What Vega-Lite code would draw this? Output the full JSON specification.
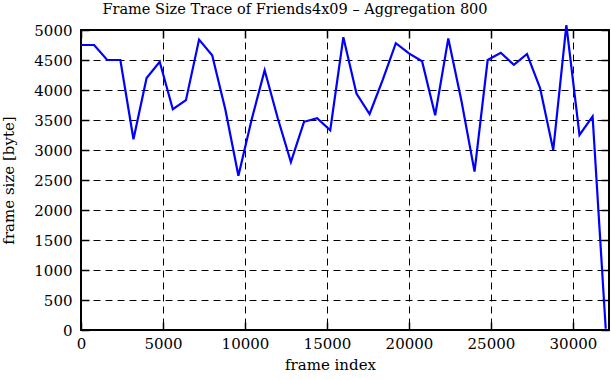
{
  "$schema": "https://vega.github.io/schema/vega-lite/v6.json",
  "width": 528,
  "height": 300,
  "autosize": "none",
  "padding": {"left": 81, "top": 30, "right": 2, "bottom": 50},
  "background": "white",
  "title": {
    "text": "Frame Size Trace of Friends4x09 – Aggregation 800",
    "font": "DejaVu Serif",
    "fontSize": 14.5,
    "fontWeight": "normal",
    "color": "black",
    "anchor": "middle",
    "dx": -50,
    "offset": 3
  },
  "config": {
    "view": {"stroke": "black", "strokeWidth": 2},
    "axis": {
      "labelFont": "DejaVu Serif",
      "titleFont": "DejaVu Serif",
      "labelFontSize": 15,
      "titleFontSize": 15,
      "titleFontWeight": "normal",
      "labelColor": "black",
      "titleColor": "black",
      "labelFlush": false,
      "domain": false,
      "tickColor": "black",
      "tickWidth": 1.5,
      "tickSize": -8,
      "gridColor": "black",
      "gridDash": [7, 5],
      "gridWidth": 1,
      "gridOpacity": 1
    }
  },
  "data": {
    "values": [
      {"frame": 0, "size": 4750},
      {"frame": 800, "size": 4750},
      {"frame": 1600, "size": 4500},
      {"frame": 2400, "size": 4500},
      {"frame": 3200, "size": 3180},
      {"frame": 4000, "size": 4200},
      {"frame": 4800, "size": 4470},
      {"frame": 5600, "size": 3680},
      {"frame": 6400, "size": 3830},
      {"frame": 7200, "size": 4840},
      {"frame": 8000, "size": 4580},
      {"frame": 8800, "size": 3680},
      {"frame": 9600, "size": 2570},
      {"frame": 10400, "size": 3500},
      {"frame": 11200, "size": 4330},
      {"frame": 12000, "size": 3530},
      {"frame": 12800, "size": 2800},
      {"frame": 13600, "size": 3470},
      {"frame": 14400, "size": 3530},
      {"frame": 15200, "size": 3330},
      {"frame": 16000, "size": 4880},
      {"frame": 16800, "size": 3940},
      {"frame": 17600, "size": 3600},
      {"frame": 18400, "size": 4170},
      {"frame": 19200, "size": 4780},
      {"frame": 20000, "size": 4610},
      {"frame": 20800, "size": 4480},
      {"frame": 21600, "size": 3580},
      {"frame": 22400, "size": 4860},
      {"frame": 23200, "size": 3820},
      {"frame": 24000, "size": 2640},
      {"frame": 24800, "size": 4500},
      {"frame": 25600, "size": 4620},
      {"frame": 26400, "size": 4420},
      {"frame": 27200, "size": 4600},
      {"frame": 28000, "size": 4030},
      {"frame": 28800, "size": 3000},
      {"frame": 29600, "size": 5080},
      {"frame": 30400, "size": 3250},
      {"frame": 31200, "size": 3560},
      {"frame": 32000, "size": 20}
    ]
  },
  "layer": [
    {
      "mark": {"type": "line", "opacity": 0},
      "encoding": {
        "x": {
          "field": "frame", "type": "quantitative",
          "scale": {"domain": [0, 32200], "nice": false, "zero": false},
          "axis": {"orient": "top", "labels": false, "title": null, "grid": false, "values": [0, 5000, 10000, 15000, 20000, 25000, 30000]}
        },
        "y": {
          "field": "size", "type": "quantitative",
          "scale": {"domain": [0, 5000], "nice": false},
          "axis": {"orient": "right", "labels": false, "title": null, "grid": false, "values": [0, 500, 1000, 1500, 2000, 2500, 3000, 3500, 4000, 4500, 5000]}
        }
      }
    },
    {
      "mark": {"type": "line", "color": "#0000ff", "strokeWidth": 2.2, "clip": false},
      "encoding": {
        "x": {
          "field": "frame", "type": "quantitative",
          "scale": {"domain": [0, 32200], "nice": false, "zero": false},
          "axis": {"orient": "bottom", "title": "frame index", "grid": true, "values": [0, 5000, 10000, 15000, 20000, 25000, 30000], "format": "d", "labelPadding": 14, "titlePadding": 6, "titleX": 249}
        },
        "y": {
          "field": "size", "type": "quantitative",
          "scale": {"domain": [0, 5000], "nice": false},
          "axis": {"orient": "left", "title": "frame size [byte]", "grid": true, "values": [0, 500, 1000, 1500, 2000, 2500, 3000, 3500, 4000, 4500, 5000], "format": "d", "labelPadding": 17, "titlePadding": 17}
        }
      }
    }
  ],
  "resolve": {"axis": {"x": "independent", "y": "independent"}}
}
